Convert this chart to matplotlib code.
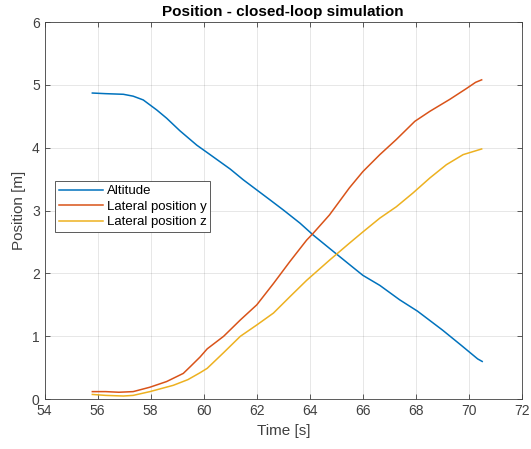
import matplotlib
matplotlib.use("Agg")
import matplotlib.pyplot as plt
import numpy as np

plt.rcParams['font.family'] = ['Liberation Sans', 'DejaVu Sans']

# Altitude
t_alt = [55.8, 56.3, 56.97, 57.34, 57.72, 58.23, 58.6, 59.1, 59.74, 60.24, 61.0, 61.49,
         62.5, 63.0, 63.63, 64.13, 64.74, 65.5, 66.0, 66.64, 67.39, 68.06, 69.0, 69.7,
         70.33, 70.5]
altitude = [4.87, 4.86, 4.85, 4.82, 4.76, 4.60, 4.47, 4.27, 4.04, 3.89, 3.66, 3.49,
            3.17, 3.01, 2.80, 2.61, 2.40, 2.14, 1.97, 1.81, 1.58, 1.40, 1.10, 0.86,
            0.64, 0.60]

# Lateral position y
t_y = [55.8, 56.3, 56.8, 57.34, 57.97, 58.6, 59.23, 59.5, 59.86, 60.13, 60.75, 61.38,
       62.0, 62.63, 63.25, 63.88, 64.13, 64.74, 65.49, 66.0, 66.64, 67.26, 67.96,
       68.53, 69.28, 69.9, 70.25, 70.48]
pos_y = [0.12, 0.12, 0.11, 0.12, 0.19, 0.28, 0.41, 0.52, 0.67, 0.80, 1.00, 1.26,
         1.50, 1.84, 2.19, 2.53, 2.64, 2.93, 3.36, 3.62, 3.89, 4.13, 4.42,
         4.58, 4.77, 4.94, 5.04, 5.08]

# Lateral position z
t_z = [55.8, 56.3, 56.97, 57.34, 57.97, 58.85, 59.4, 59.86, 60.13, 60.75, 61.38, 62.0,
       62.63, 63.25, 63.88, 64.74, 65.49, 66.0, 66.64, 67.26, 67.89, 68.53, 69.15,
       69.78, 70.48]
pos_z = [0.075, 0.06, 0.05, 0.06, 0.12, 0.22, 0.31, 0.42, 0.49, 0.74, 1.00, 1.18,
         1.37, 1.63, 1.89, 2.21, 2.48, 2.66, 2.88, 3.06, 3.28, 3.52, 3.73,
         3.89, 3.98]

fig = plt.figure(figsize=(5.31, 4.49), dpi=100)
ax = fig.add_axes([0.084, 0.111, 0.899, 0.84])

ax.plot(t_alt, altitude, color='#0072BD', lw=1.1, label='Altitude')
ax.plot(t_y, pos_y, color='#D95319', lw=1.1, label='Lateral position y')
ax.plot(t_z, pos_z, color='#EDB120', lw=1.1, label='Lateral position z')

ax.set_xlim(54, 72)
ax.set_ylim(0, 6)
ax.set_xticks(np.arange(54, 73, 2))
ax.set_yticks(np.arange(0, 7, 1))
ax.grid(True, color='#262626', alpha=0.13, lw=0.6)
ax.tick_params(direction='in', top=True, right=True, length=3.5, width=0.6,
               colors='#404040', labelsize=10, labelcolor='#404040')
for s in ax.spines.values():
    s.set_color('#404040')
    s.set_linewidth(0.6)

ax.set_title('Position - closed-loop simulation', fontsize=11, fontweight='bold', pad=4)
ax.set_xlabel('Time [s]', fontsize=11, color='#404040')
ax.set_ylabel('Position [m]', fontsize=11, color='#404040')

leg = ax.legend(loc='upper left', bbox_to_anchor=(0.022, 0.578), fontsize=9.5,
                frameon=True, fancybox=False, edgecolor='#404040', framealpha=1,
                handlelength=3.3, handletextpad=0.3, labelspacing=0.25,
                borderpad=0.3, borderaxespad=0)
leg.get_frame().set_linewidth(0.6)

fig.savefig('out.png', dpi=100)
